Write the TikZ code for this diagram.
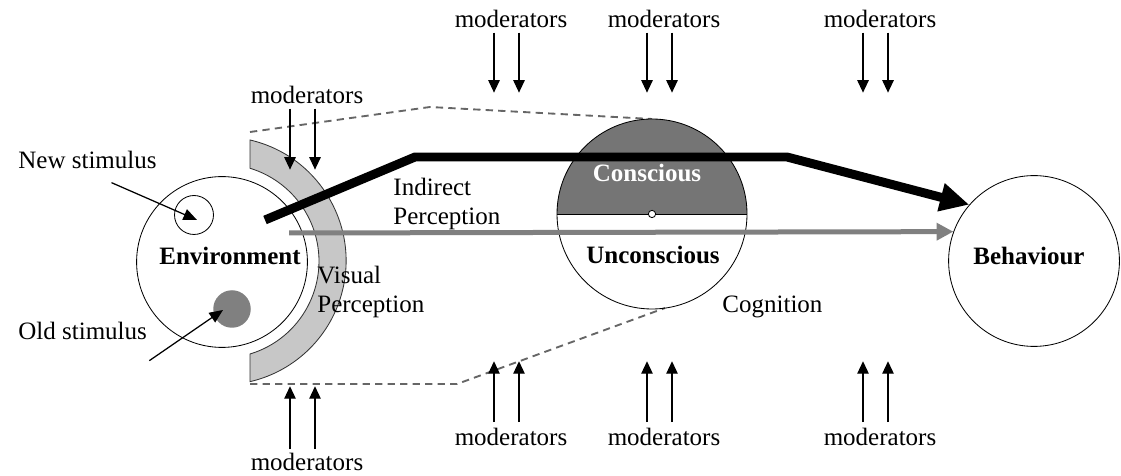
\documentclass[tikz,border=0pt]{standalone}
\usepackage{fontspec}
\setmainfont{Liberation Serif}
\usetikzlibrary{arrows.meta, calc}

\begin{document}
\begin{tikzpicture}[x=0.48pt, y=-0.48pt, font=\fontsize{12}{14}\selectfont,
  bigcirc/.style={circle, draw, inner sep=0pt, minimum size=82pt},
  mindcirc/.style={circle, draw, inner sep=0pt, minimum size=91.2pt},
  txt/.style={inner sep=0pt, anchor=base west, align=left},
  boldtxt/.style={inner sep=0pt, anchor=base, font=\fontsize{12}{14}\selectfont\bfseries},
  modtxt/.style={inner sep=0pt, anchor=base},
  modarrow/.style={line width=0.6pt, -{Triangle[length=6pt, width=5.5pt]}},
  stimarrow/.style={line width=0.6pt, -{Triangle[length=6.5pt, width=5.5pt]}},
  hull/.style={draw=black!60, line width=0.9pt, dash pattern=on 3.5pt off 2.5pt}]
\useasboundingbox (0,0) rectangle (1121,476);

% dashed hull round the process
\draw[hull] (250,132) -- (430,107) -- (652,119);
\draw[hull] (250,384) -- (457,384) -- (665,308);

% visual perception band
\filldraw[fill=black!22, draw=black!80] (250,140) arc[start angle=-77, end angle=77, radius=124]
  -- (250,354) arc[start angle=73.2, end angle=-73.2, radius=97] -- cycle;

\node[bigcirc] (env) at (222,262) {};
\node[boldtxt] (envlbl) at (230,265) {Environment};
\node[circle, draw, inner sep=0pt, minimum size=18.7pt] (newst) at (194,215) {};
\node[circle, fill=black!50, inner sep=0pt, minimum size=18pt] (oldst) at (232,309) {};
\node[txt] (newlbl) at (18,169) {New stimulus};
\node[txt] (oldlbl) at (18,340) {Old stimulus};
\draw[stimarrow] ($(newlbl.south)+(24,13)$) -- ($(newst.center)+(3,5)$);
\draw[stimarrow] ($(oldlbl.south east)+(2,20)$) -- ($(oldst.center)+(-9,1)$);

% conscious / unconscious
\fill[black!54] (557,214) arc[start angle=180, end angle=360, radius=95] -- cycle;
\node[mindcirc] (mind) at (652,214) {};
\draw (mind.west) -- (mind.east);
\node[circle, draw, fill=white, inner sep=0pt, minimum size=3.5pt] (mindctr) at (mind.center) {};
\node[boldtxt, text=white] (conlbl) at (647,182) {Conscious};
\node[boldtxt] (unclbl) at (653,264) {Unconscious};

\node[bigcirc] (beh) at (1034,261) {};
\node[boldtxt] (behlbl) at (1029,265) {Behaviour};

\node[txt] (indlbl) at (393,225) {Indirect\\Perception};
\node[txt] (vislbl) at (317,313) {Visual\\Perception};
\node[txt] (coglbl) at (722,313) {Cognition};

% perception routes
\coordinate (vis0) at (289,233);
\coordinate (ind0) at (265,220);
\draw[black!50, line width=2.4pt, -{Triangle[length=8pt, width=8pt]}] (vis0) -- (beh.160);
\draw[line width=4.3pt, -{Triangle[length=14pt, width=13pt]}] (ind0) -- (415,157) -- (787,157) -- (beh.139);

% moderators
\node[modtxt] (modtl) at (307,104) {moderators};
\node[modtxt] (modbl) at (307,470) {moderators};
\foreach \dx in {-17,8} {
  \draw[modarrow] ($(modtl.south)+(\dx,4)$) -- ++(0,61);
  \draw[modarrow] ($(modbl.north)+(\dx,-3)$) -- ++(0,-63);
}
\foreach \n/\x in {1/511, 2/664, 3/880} {
  \node[modtxt] (modt\n) at (\x,28) {moderators};
  \node[modtxt] (modb\n) at (\x,445) {moderators};
  \foreach \dx in {-17,8} {
    \draw[modarrow] ($(modt\n.south)+(\dx,4)$) -- ++(0,60);
    \draw[modarrow] ($(modb\n.north)+(\dx,-5)$) -- ++(0,-61);
  }
}
\end{tikzpicture}
\end{document}
